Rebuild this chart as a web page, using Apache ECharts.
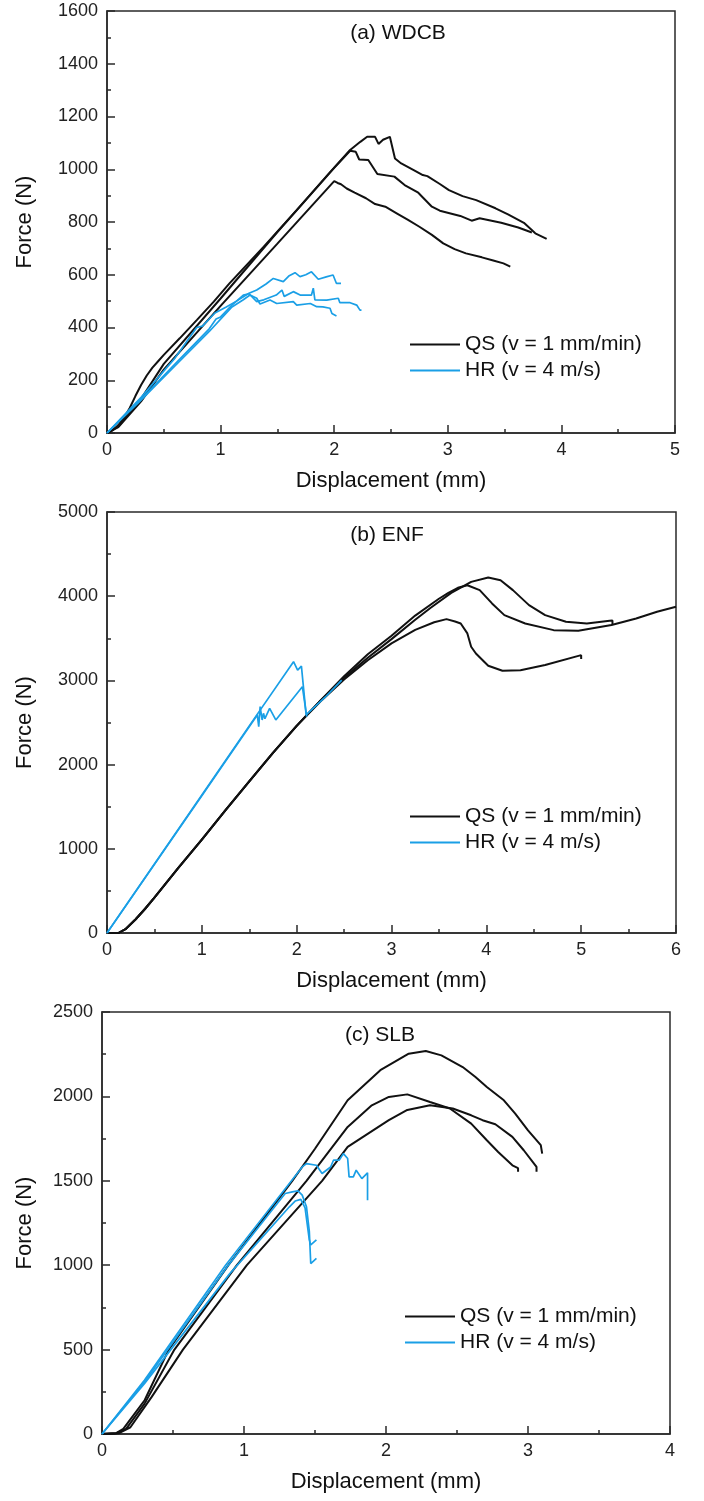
<!DOCTYPE html>
<html>
<head>
<meta charset="utf-8">
<script src="https://cdn.jsdelivr.net/npm/echarts@6/dist/echarts.min.js"></script>
<style>
  html, body { margin: 0; padding: 0; background: #fff; }
  #chart { width: 704px; height: 1501px; }
</style>
</head>
<body>
<div id="chart"></div>
<script>
// ---------- Labels ----------
const panelTitles = ['(a) WDCB', '(b) ENF', '(c) SLB'];
const qsName = 'QS (v = 1 mm/min)';
const hrName = 'HR (v = 4 m/s)';
const xName = 'Displacement (mm)';
const yName = 'Force (N)';

// ---------- Axis ranges ----------
const xMax = [5, 6, 4];
const yMax = [1600, 5000, 2500];
const yStep = [200, 1000, 500];

// ---------- (a) WDCB ----------
const wdcbQS1 = [[0,0],[0.05,10],[0.1,30],[0.15,58],[0.2,95],[0.25,140],[0.3,182],[0.35,218],[0.4,248],[0.45,272],[0.5,296],[0.64,359],[0.79,428],[0.94,498],[1.08,568],[1.38,706],[1.67,845],[1.96,987],[2.14,1073],[2.23,1104],[2.29,1123],[2.36,1123],[2.39,1096],[2.43,1112],[2.49,1123],[2.535,1041],[2.59,1022],[2.70,997],[2.78,978],[2.82,974],[2.93,944],[3.01,921],[3.13,898],[3.25,883],[3.42,852],[3.53,829],[3.67,797],[3.77,757],[3.87,736]];
const wdcbQS2 = [[0,0],[0.1,25],[0.3,130],[0.5,262],[1.0,510],[1.5,762],[2.0,1005],[2.14,1070],[2.19,1066],[2.22,1037],[2.30,1035],[2.38,982],[2.53,972],[2.62,940],[2.74,911],[2.86,858],[2.93,843],[3.11,823],[3.21,805],[3.28,814],[3.47,797],[3.62,779],[3.74,760]];
const wdcbQS3 = [[0,0],[0.1,22],[0.3,120],[0.5,240],[1.0,482],[1.5,718],[2.0,955],[2.03,948],[2.06,943],[2.11,927],[2.18,911],[2.28,890],[2.36,868],[2.45,858],[2.55,833],[2.65,808],[2.75,782],[2.86,751],[2.96,719],[3.06,697],[3.16,681],[3.30,666],[3.40,654],[3.49,643],[3.55,631]];
const wdcbHR1 = [[0,0],[0.3,135],[0.6,285],[0.79,400],[0.84,405],[0.95,455],[1.05,478],[1.14,500],[1.25,530],[1.318,542],[1.40,565],[1.464,586],[1.552,574],[1.60,595],[1.655,608],[1.699,593],[1.75,600],[1.80,611],[1.86,583],[1.93,592],[1.99,599],[2.0,603],[2.02,567],[2.06,567]];
const wdcbHR2 = [[0,0],[0.3,128],[0.6,262],[0.9,395],[0.96,432],[1.0,440],[1.1,485],[1.2,523],[1.25,528],[1.318,498],[1.38,505],[1.49,523],[1.54,542],[1.56,518],[1.64,536],[1.70,523],[1.80,523],[1.816,549],[1.83,505],[1.934,504],[2.036,511],[2.05,494],[2.14,494],[2.198,485],[2.227,466],[2.24,466]];
const wdcbHR3 = [[0,0],[0.3,125],[0.6,255],[0.9,385],[1.1,478],[1.2,505],[1.259,523],[1.318,511],[1.347,489],[1.435,504],[1.494,491],[1.64,498],[1.67,485],[1.79,491],[1.846,479],[1.90,478],[1.963,473],[1.98,453],[2.02,444]];

// ---------- (b) ENF ----------
const enfQS1 = [[0,0],[0.12,0],[0.2,50],[0.3,160],[0.4,285],[0.5,420],[0.75,770],[1.0,1110],[1.25,1460],[1.5,1800],[1.75,2140],[2.0,2460],[2.25,2760],[2.5,3050],[2.75,3310],[3.0,3530],[3.25,3770],[3.5,3970],[3.6,4040],[3.7,4100],[3.8,4130],[3.93,4072],[4.06,3914],[4.19,3775],[4.41,3676],[4.71,3597],[4.97,3589],[5.32,3657],[5.58,3736],[5.80,3815],[6.0,3874]];
const enfQS2 = [[0,0],[0.12,0],[0.2,50],[0.3,160],[0.4,285],[0.5,420],[0.75,770],[1.0,1110],[1.25,1460],[1.5,1800],[1.75,2140],[2.0,2460],[2.25,2760],[2.5,3030],[2.75,3270],[3.0,3490],[3.25,3720],[3.41,3860],[3.63,4040],[3.84,4170],[4.02,4222],[4.15,4190],[4.28,4072],[4.45,3894],[4.62,3775],[4.84,3696],[5.06,3676],[5.30,3708],[5.33,3712],[5.33,3660]];
const enfQS3 = [[0,0],[0.12,0],[0.2,50],[0.3,160],[0.4,285],[0.5,420],[0.75,770],[1.0,1110],[1.25,1460],[1.5,1800],[1.75,2140],[2.0,2460],[2.25,2750],[2.5,3010],[2.75,3240],[3.0,3440],[3.25,3600],[3.45,3690],[3.58,3728],[3.67,3700],[3.73,3676],[3.80,3558],[3.84,3400],[3.89,3320],[4.02,3174],[4.17,3115],[4.36,3120],[4.62,3182],[5.0,3300],[5.0,3255]];
const enfHR1 = [[0,0],[1.0,1640],[1.5,2460],[1.967,3222],[2.01,3123],[2.05,3170],[2.10,2590],[2.3,2800],[2.475,3004]];
const enfHR2 = [[0,0],[1.0,1630],[1.585,2590],[1.60,2451],[1.615,2688],[1.636,2530],[1.65,2609],[1.665,2545],[1.715,2668],[1.78,2530],[2.06,2925],[2.106,2570]];

// ---------- (c) SLB ----------
const slbQS1 = [[0,0],[0.1,5],[0.15,30],[0.3,200],[0.47,500],[0.89,1000],[1.34,1500],[1.5,1690],[1.73,1977],[1.96,2155],[2.16,2253],[2.28,2269],[2.39,2243],[2.54,2174],[2.63,2115],[2.71,2056],[2.83,1977],[2.91,1898],[3.0,1799],[3.09,1711],[3.10,1661]];
const slbQS2 = [[0,0],[0.1,5],[0.17,30],[0.3,180],[0.51,500],[0.95,1000],[1.44,1500],[1.73,1819],[1.90,1947],[2.02,1997],[2.15,2012],[2.31,1967],[2.45,1928],[2.60,1839],[2.71,1740],[2.79,1671],[2.89,1592],[2.93,1575],[2.93,1553]];
const slbQS3 = [[0,0],[0.12,5],[0.2,40],[0.35,220],[0.57,500],[1.02,1000],[1.55,1500],[1.73,1701],[2.02,1859],[2.15,1920],[2.31,1947],[2.47,1928],[2.60,1888],[2.68,1859],[2.77,1835],[2.89,1760],[2.97,1681],[3.06,1582],[3.06,1553]];
const slbHR1 = [[0,0],[0.3,320],[0.87,1000],[1.41,1582],[1.44,1602],[1.51,1592],[1.55,1543],[1.61,1582],[1.63,1622],[1.67,1622],[1.70,1661],[1.73,1632],[1.74,1523],[1.77,1523],[1.79,1563],[1.83,1513],[1.87,1547],[1.87,1385]];
const slbHR2 = [[0,0],[0.3,310],[0.88,990],[1.29,1425],[1.34,1434],[1.38,1440],[1.41,1415],[1.44,1346],[1.46,1200],[1.47,1010],[1.51,1040]];
const slbHR3 = [[0,0],[0.3,300],[0.9,950],[1.32,1346],[1.36,1380],[1.40,1390],[1.43,1340],[1.46,1150],[1.47,1120],[1.51,1150]];

const qsSets = [[wdcbQS1, wdcbQS2, wdcbQS3], [enfQS1, enfQS2, enfQS3], [slbQS1, slbQS2, slbQS3]];
const hrSets = [[wdcbHR1, wdcbHR2, wdcbHR3], [enfHR1, enfHR2], [slbHR1, slbHR2, slbHR3]];

// ---------- Styling ----------
const FONT = "'Liberation Sans', Arial, sans-serif";
const QS_COLOR = '#111111';
const HR_COLOR = '#1a9fe6';
const AX_COLOR = '#2a2a2a';

const grids = [
  { left: 107, top: 11, width: 568, height: 422 },
  { left: 107, top: 512, width: 569, height: 421 },
  { left: 102, top: 1012, width: 568, height: 422 }
];
const yNameGap = [71, 71, 66];
const titlePos = [[398, 33], [387, 535], [380, 1035]];
const legendPos = [[405, 331], [405, 803], [400, 1303]];

const option = {
  animation: false,
  backgroundColor: '#ffffff',
  grid: grids.map(g => Object.assign({ show: true, borderColor: AX_COLOR, borderWidth: 1.5, backgroundColor: 'transparent' }, g)),
  xAxis: xMax.map((mx, i) => ({
    type: 'value', gridIndex: i, min: 0, max: mx, interval: 1,
    name: xName, nameLocation: 'middle', nameGap: 37,
    nameTextStyle: { fontFamily: FONT, fontSize: 22, color: '#111' },
    axisLine: { show: true, lineStyle: { color: AX_COLOR, width: 1.5 } },
    axisTick: { show: true, inside: true, length: 8, lineStyle: { color: AX_COLOR, width: 1.5 } },
    minorTick: { show: true, splitNumber: 2, length: 4, lineStyle: { color: AX_COLOR, width: 1.5 } },
    axisLabel: { fontFamily: FONT, fontSize: 18, color: '#222', margin: 8, formatter: v => String(v) },
    splitLine: { show: false }
  })),
  yAxis: yMax.map((mx, i) => ({
    type: 'value', gridIndex: i, min: 0, max: mx, interval: yStep[i],
    name: yName, nameLocation: 'middle', nameGap: yNameGap[i],
    nameTextStyle: { fontFamily: FONT, fontSize: 22, color: '#111' },
    axisLine: { show: true, lineStyle: { color: AX_COLOR, width: 1.5 } },
    axisTick: { show: true, inside: true, length: 8, lineStyle: { color: AX_COLOR, width: 1.5 } },
    minorTick: { show: true, splitNumber: 2, length: 4, lineStyle: { color: AX_COLOR, width: 1.5 } },
    axisLabel: { fontFamily: FONT, fontSize: 18, color: '#222', margin: 9, formatter: v => String(v) },
    splitLine: { show: false }
  })),
  legend: legendPos.map(p => ({
    left: p[0], top: p[1] - 2, orient: 'vertical', selectedMode: false,
    itemWidth: 50, itemHeight: 2, itemGap: 5,
    textStyle: { fontFamily: FONT, fontSize: 21, color: '#111', lineHeight: 21 },
    data: [{ name: qsName, icon: 'rect' }, { name: hrName, icon: 'rect' }]
  })),
  graphic: panelTitles.map((t, i) => ({
    type: 'text', x: titlePos[i][0], y: titlePos[i][1], silent: true,
    style: { text: t, fill: '#111', font: '21px ' + FONT, textAlign: 'center', textVerticalAlign: 'middle', align: 'center', verticalAlign: 'middle' }
  })),
  series: []
};

function addLine(name, data, idx, color, width) {
  option.series.push({
    type: 'line', name: name, data: data,
    xAxisIndex: idx, yAxisIndex: idx,
    showSymbol: false, symbol: 'none', smooth: false,
    lineStyle: { color: color, width: width },
    itemStyle: { color: color },
    emphasis: { disabled: true }, silent: true
  });
}

for (let i = 0; i < 3; i++) {
  qsSets[i].forEach(d => addLine(qsName, d, i, QS_COLOR, 2));
  hrSets[i].forEach(d => addLine(hrName, d, i, HR_COLOR, 1.7));
}

const chart = echarts.init(document.getElementById('chart'), null, { renderer: 'canvas' });
chart.setOption(option);
</script>
</body>
</html>
